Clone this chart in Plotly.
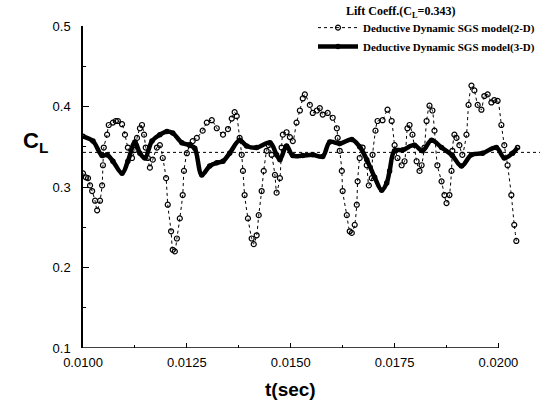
import plotly.graph_objects as go

# 2-D model (open circles, dotted line)
t_2d = [0.01000, 0.01007, 0.01012, 0.01017, 0.01022, 0.01029, 0.01034, 0.01041, 0.01046, 0.01048,
        0.01050, 0.01058, 0.01062, 0.01072, 0.01079, 0.01084, 0.01094, 0.01101, 0.01108, 0.01118,
        0.01125, 0.01130, 0.01137, 0.01142, 0.01147, 0.01151, 0.01156, 0.01161, 0.01168, 0.01178,
        0.01185, 0.01192, 0.01200, 0.01204, 0.01212, 0.01216, 0.01221, 0.01226, 0.01233, 0.01240,
        0.01243, 0.01250, 0.01257, 0.01264, 0.01274, 0.01288, 0.01298, 0.01310, 0.01322, 0.01337,
        0.01349, 0.01358, 0.01365, 0.01370, 0.01377, 0.01382, 0.01385, 0.01389, 0.01397, 0.01406,
        0.01411, 0.01418, 0.01423, 0.01430, 0.01435, 0.01442, 0.01447, 0.01454, 0.01462, 0.01466,
        0.01474, 0.01478, 0.01481, 0.01490, 0.01498, 0.01505, 0.01514, 0.01522, 0.01529, 0.01534,
        0.01546, 0.01553, 0.01563, 0.01570, 0.01577, 0.01589, 0.01601, 0.01611, 0.01613, 0.01618,
        0.01623, 0.01625, 0.01635, 0.01642, 0.01647, 0.01654, 0.01659, 0.01661, 0.01666, 0.01673,
        0.01683, 0.01688, 0.01695, 0.01697, 0.01704, 0.01709, 0.01721, 0.01733, 0.01743, 0.01750,
        0.01757, 0.01767, 0.01774, 0.01781, 0.01786, 0.01793, 0.01803, 0.01810, 0.01815, 0.01822,
        0.01827, 0.01834, 0.01841, 0.01846, 0.01853, 0.01863, 0.01870, 0.01875, 0.01882, 0.01887,
        0.01889, 0.01894, 0.01899, 0.01906, 0.01913, 0.01923, 0.01928, 0.01935, 0.01942, 0.01950,
        0.01959, 0.01966, 0.01974, 0.01983, 0.01990, 0.01998, 0.02007, 0.02014, 0.02022, 0.02031,
        0.02038, 0.02043]
cl_2d = [0.317, 0.312, 0.311, 0.302, 0.295, 0.283, 0.271, 0.283, 0.302, 0.327,
         0.349, 0.365, 0.377, 0.380, 0.382, 0.382, 0.378, 0.365, 0.349, 0.336,
         0.346, 0.361, 0.373, 0.377, 0.365, 0.349, 0.336, 0.324, 0.334, 0.349,
         0.352, 0.336, 0.311, 0.278, 0.245, 0.222, 0.220, 0.236, 0.261, 0.290,
         0.320, 0.342, 0.352, 0.357, 0.361, 0.370, 0.380, 0.383, 0.373, 0.365,
         0.372, 0.385, 0.393, 0.388, 0.361, 0.340, 0.320, 0.290, 0.261, 0.236,
         0.229, 0.240, 0.265, 0.295, 0.320, 0.345, 0.352, 0.340, 0.315, 0.293,
         0.311, 0.349, 0.365, 0.368, 0.362, 0.357, 0.380, 0.395, 0.410, 0.415,
         0.402, 0.392, 0.395, 0.398, 0.390, 0.392, 0.386, 0.373, 0.361, 0.345,
         0.320, 0.295, 0.265, 0.245, 0.243, 0.253, 0.278, 0.307, 0.336, 0.349,
         0.327, 0.302, 0.311, 0.340, 0.370, 0.382, 0.383, 0.396, 0.382, 0.352,
         0.336, 0.327, 0.332, 0.373, 0.377, 0.365, 0.332, 0.320, 0.327, 0.349,
         0.382, 0.401, 0.395, 0.370, 0.327, 0.307, 0.290, 0.280, 0.290, 0.320,
         0.345, 0.365, 0.361, 0.352, 0.340, 0.365, 0.402, 0.426, 0.420, 0.402,
         0.396, 0.413, 0.415, 0.405, 0.408, 0.407, 0.377, 0.352, 0.327, 0.290,
         0.253, 0.233]

# 3-D model (thick line)
t_3d = [0.01000, 0.01024, 0.01046, 0.01058, 0.01072, 0.01094, 0.01108, 0.01125, 0.01137, 0.01149,
        0.01166, 0.01185, 0.01202, 0.01216, 0.01238, 0.01257, 0.01269, 0.01286, 0.01305, 0.01322,
        0.01337, 0.01353, 0.01377, 0.01394, 0.01418, 0.01450, 0.01466, 0.01474, 0.01490, 0.01505,
        0.01529, 0.01553, 0.01577, 0.01594, 0.01618, 0.01647, 0.01666, 0.01683, 0.01702, 0.01719,
        0.01731, 0.01738, 0.01750, 0.01769, 0.01798, 0.01817, 0.01839, 0.01863, 0.01889, 0.01911,
        0.01935, 0.01962, 0.01995, 0.02014, 0.02034, 0.02046]
cl_3d = [0.363, 0.357, 0.339, 0.340, 0.332, 0.317, 0.332, 0.356, 0.342, 0.336,
         0.357, 0.365, 0.369, 0.367, 0.355, 0.352, 0.348, 0.315, 0.326, 0.330,
         0.332, 0.342, 0.358, 0.351, 0.349, 0.355, 0.340, 0.334, 0.351, 0.339,
         0.339, 0.340, 0.338, 0.356, 0.354, 0.359, 0.350, 0.334, 0.312, 0.296,
         0.305, 0.320, 0.345, 0.346, 0.352, 0.345, 0.358, 0.349, 0.339, 0.326,
         0.340, 0.342, 0.349, 0.336, 0.342, 0.349]

cl_mean = 0.343
x_ticks = [0.0100, 0.0125, 0.0150, 0.0175, 0.0200]
y_ticks = [0.1, 0.2, 0.3, 0.4, 0.5]

serif = "Liberation Serif"
sans = "Liberation Sans"

fig = go.Figure()
fig.add_trace(go.Scatter(
    x=t_2d, y=cl_2d, mode="lines+markers", name="Deductive Dynamic SGS model(2-D)",
    line=dict(color="black", width=1, dash="dot", shape="spline", smoothing=0.6),
    marker=dict(symbol="circle-open", size=5, color="black", line=dict(width=1.2, color="black")),
))
fig.add_trace(go.Scatter(
    x=t_3d, y=cl_3d, mode="lines+markers", name="Deductive Dynamic SGS model(3-D)",
    line=dict(color="black", width=4.5, shape="spline", smoothing=1.0),
    marker=dict(symbol="circle-open", size=4, color="black", line=dict(width=1.5, color="black")),
))

# mean reference line
fig.add_shape(type="line", xref="paper", yref="y", x0=0, x1=1, y0=cl_mean, y1=cl_mean,
              line=dict(color="black", width=1, dash="dot"))
# x-axis line (ends at 0.0200)
fig.add_shape(type="line", xref="x", yref="y", x0=x_ticks[0], x1=x_ticks[-1], y0=0.1, y1=0.1,
              line=dict(color="black", width=1.5))

fig.update_xaxes(range=[0.0100, 0.0210], tickmode="array", tickvals=x_ticks,
                 ticktext=[f"{v:.4f}" for v in x_ticks],
                 ticks="inside", ticklen=5, tickwidth=1, tickcolor="black", ticklabelstandoff=5,
                 minor=dict(ticks="inside", ticklen=3, tickvals=[0.01125, 0.01375, 0.01625, 0.01875], tickcolor="black"),
                 showline=False, showgrid=False, zeroline=False,
                 tickfont=dict(family=sans, size=13, color="black"))
fig.update_yaxes(range=[0.1, 0.5], tickmode="array", tickvals=y_ticks,
                 ticktext=[f"{v:.1f}" for v in y_ticks],
                 ticks="inside", ticklen=6, tickwidth=1, tickcolor="black", ticklabelstandoff=8,
                 minor=dict(ticks="inside", ticklen=3, tickvals=[0.15, 0.25, 0.35, 0.45], tickcolor="black"),
                 showline=True, linecolor="black", linewidth=1.5, showgrid=False, zeroline=False,
                 tickfont=dict(family=sans, size=13, color="black"))

fig.add_annotation(xref="paper", yref="paper", x=-0.105, y=0.64, xanchor="center", yanchor="middle",
                   showarrow=False,
                   text="C<sub>L</sub>", font=dict(family=sans, size=22, color="black", weight="bold"))
fig.add_annotation(xref="paper", yref="paper", x=0.453, y=-0.13, xanchor="center", yanchor="middle",
                   showarrow=False,
                   text="t(sec)", font=dict(family=sans, size=19, color="black", weight="bold"))
# legend heading
fig.add_annotation(xref="paper", yref="paper", x=(400 - 83) / 457, y=1 + (26 - 12) / 322,
                   xanchor="center", yanchor="middle", showarrow=False,
                   text="Lift Coeff.(C<sub>L</sub>=0.343)",
                   font=dict(family=serif, size=12, color="black", weight="bold"))

fig.update_layout(
    width=546, height=412,
    margin=dict(l=83, r=6, t=26, b=64),
    plot_bgcolor="white", paper_bgcolor="white",
    showlegend=True,
    legend=dict(x=1.0, xanchor="right", y=1.04, yanchor="top",
                bgcolor="rgba(0,0,0,0)", tracegroupgap=0, itemwidth=40,
                font=dict(family=serif, size=11, color="black", weight="bold")),
)

fig.write_html("out.html")
